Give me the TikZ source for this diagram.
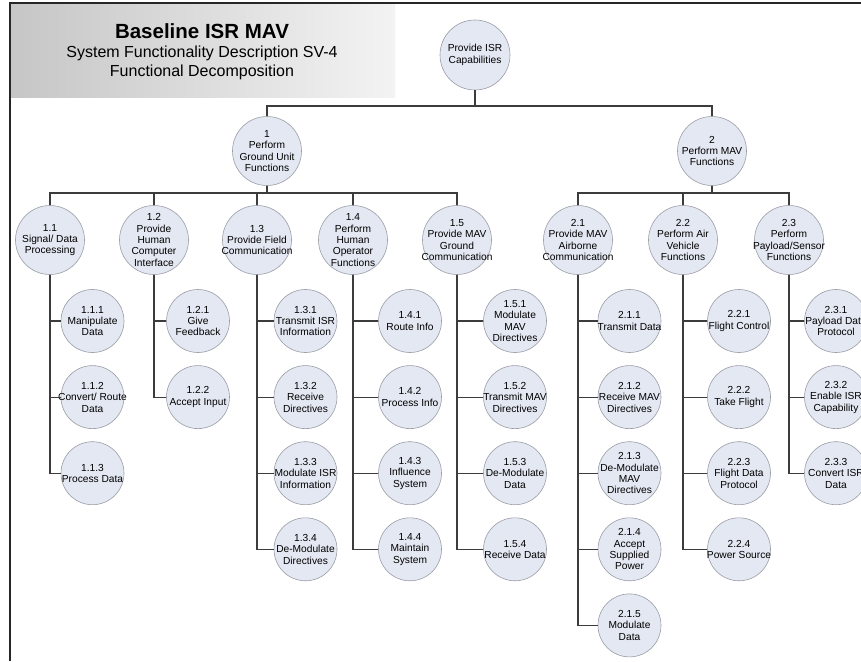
\documentclass[tikz,border=0pt]{standalone}
\usepackage{fontspec}
\setmainfont{Liberation Sans}
\usetikzlibrary{positioning}
\definecolor{fnfill}{HTML}{E4E8F2}
\definecolor{fnline}{HTML}{9A9CA6}
\definecolor{linkline}{HTML}{3C3C3C}
\definecolor{hdleft}{HTML}{C6C6C6}
\definecolor{hdright}{HTML}{F3F3F3}
\tikzset{
  fnbig/.style   = {circle, draw=fnline, fill=fnfill, line width=0.6pt,
                    minimum size=69pt, inner sep=0pt},
  fntext/.style  = {font=\fontsize{10.2}{11.4}\selectfont, align=center, inner sep=0pt},
  fn/.style      = {fnbig, label={[fntext]center:{#1}}},
  leaf/.style    = {fn={#1}, minimum size=63pt},
  treelink/.style = {draw=linkline, line width=1.1pt},
}

\begin{document}
\begin{tikzpicture}[x=1pt, y=-1pt, node distance=12.5pt]
    \useasboundingbox (0,0) rectangle (861,661);
    \clip (0,0) rectangle (861,661);
    % header
    \shade[left color=hdleft, right color=hdright] (10,3) rectangle (395,97);
    \draw[line width=2pt, draw=black!85] (10,661) -- (10,3) -- (861,3);
    \node[font=\fontsize{20.5}{24}\selectfont\bfseries, anchor=base] (hdtitle) at (202,38) {Baseline ISR MAV};
    \node[font=\fontsize{16}{20}\selectfont, anchor=base] (hdsub) at (202,57) {System Functionality Description SV-4};
    \node[font=\fontsize{16}{20}\selectfont, anchor=base] (hddec) at (202,77) {Functional Decomposition};

    % top levels
    \node[fn={Provide ISR\\Capabilities}, minimum size=70pt] (f0) at (475,55) {};
    \node[fn={1\\Perform\\Ground Unit\\Functions}] (f1) at (267,151) {};
    \node[fn={2\\Perform MAV\\Functions}]          (f2) at (712,151) {};

    \node[fn={1.1\\Signal/ Data\\Processing}]               (f11) at (50,240) {};
    \node[fn={1.2\\Provide\\Human\\Computer\\Interface}]    (f12) at (154,240) {};
    \node[fn={1.3\\Provide Field\\Communication}]           (f13) at (257,240) {};
    \node[fn={1.4\\Perform\\Human\\Operator\\Functions}]    (f14) at (353,240) {};
    \node[fn={1.5\\Provide MAV\\Ground\\Communication}]     (f15) at (457,240) {};
    \node[fn={2.1\\Provide MAV\\Airborne\\Communication}]   (f21) at (578,240) {};
    \node[fn={2.2\\Perform Air\\Vehicle\\Functions}]        (f22) at (683,240) {};
    \node[fn={2.3\\Perform\\Payload/Sensor\\Functions}]     (f23) at (789,240) {};

    % leaves
    \node[leaf={1.1.1\\Manipulate\\Data}]                   (f111) at (92.5,321) {};
    \node[leaf={1.1.2\\Convert/ Route\\Data}, below=of f111] (f112) {};
    \node[leaf={1.1.3\\Process Data}, below=of f112]        (f113) {};

    \node[leaf={1.2.1\\Give\\Feedback}]                     (f121) at (198,321) {};
    \node[leaf={1.2.2\\Accept Input}, below=of f121]        (f122) {};

    \node[leaf={1.3.1\\Transmit ISR\\Information}]          (f131) at (305.5,321) {};
    \node[leaf={1.3.2\\Receive\\Directives}, below=of f131] (f132) {};
    \node[leaf={1.3.3\\Modulate ISR\\Information}, below=of f132] (f133) {};
    \node[leaf={1.3.4\\De-Modulate\\Directives}, below=of f133]   (f134) {};

    \node[leaf={1.4.1\\Route Info}]                         (f141) at (410,321) {};
    \node[leaf={1.4.2\\Process Info}, below=of f141]        (f142) {};
    \node[leaf={1.4.3\\Influence\\System}, below=of f142]   (f143) {};
    \node[leaf={1.4.4\\Maintain\\System}, below=of f143]    (f144) {};

    \node[leaf={1.5.1\\Modulate\\MAV\\Directives}]          (f151) at (515,321) {};
    \node[leaf={1.5.2\\Transmit MAV\\Directives}, below=of f151] (f152) {};
    \node[leaf={1.5.3\\De-Modulate\\Data}, below=of f152]   (f153) {};
    \node[leaf={1.5.4\\Receive Data}, below=of f153]        (f154) {};

    \node[leaf={2.1.1\\Transmit Data}]                      (f211) at (629.5,321) {};
    \node[leaf={2.1.2\\Receive MAV\\Directives}, below=of f211]     (f212) {};
    \node[leaf={2.1.3\\De-Modulate\\MAV\\Directives}, below=of f212] (f213) {};
    \node[leaf={2.1.4\\Accept\\Supplied\\Power}, below=of f213]     (f214) {};
    \node[leaf={2.1.5\\Modulate\\Data}, below=of f214]              (f215) {};

    \node[leaf={2.2.1\\Flight Control}]                     (f221) at (739,321) {};
    \node[leaf={2.2.2\\Take Flight}, below=of f221]         (f222) {};
    \node[leaf={2.2.3\\Flight Data\\Protocol}, below=of f222] (f223) {};
    \node[leaf={2.2.4\\Power Source}, below=of f223]        (f224) {};

    \node[leaf={2.3.1\\Payload Data\\Protocol}]             (f231) at (836,321) {};
    \node[leaf={2.3.2\\Enable ISR\\Capability}, below=of f231] (f232) {};
    \node[leaf={2.3.3\\Convert ISR\\Data}, below=of f232]   (f233) {};

    % connectors
    \coordinate (b0) at (0,106);
    \coordinate (b1) at (0,193);
    \draw[treelink] (f0.south) -- (f0.south |- b0) -| (f1.north);
    \draw[treelink] (f0.south |- b0) -| (f2.north);
    \draw[treelink] (f1.south) -- (f1.south |- b1) -| (f11.north);
    \draw[treelink] (f1.south |- b1) -| (f12.north);
    \draw[treelink] (f1.south |- b1) -| (f13.north);
    \draw[treelink] (f1.south |- b1) -| (f14.north);
    \draw[treelink] (f1.south |- b1) -| (f15.north);
    \draw[treelink] (f2.south) -- (f2.south |- b1) -| (f21.north);
    \draw[treelink] (f2.south |- b1) -| (f22.north);
    \draw[treelink] (f2.south |- b1) -| (f23.north);

    \draw[treelink] (f11.south) |- (f111.west);
    \draw[treelink] (f11.south) |- (f112.west);
    \draw[treelink] (f11.south) |- (f113.west);
    \draw[treelink] (f12.south) |- (f121.west);
    \draw[treelink] (f12.south) |- (f122.west);
    \draw[treelink] (f13.south) |- (f131.west);
    \draw[treelink] (f13.south) |- (f132.west);
    \draw[treelink] (f13.south) |- (f133.west);
    \draw[treelink] (f13.south) |- (f134.west);
    \draw[treelink] (f14.south) |- (f141.west);
    \draw[treelink] (f14.south) |- (f142.west);
    \draw[treelink] (f14.south) |- (f143.west);
    \draw[treelink] (f14.south) |- (f144.west);
    \draw[treelink] (f15.south) |- (f151.west);
    \draw[treelink] (f15.south) |- (f152.west);
    \draw[treelink] (f15.south) |- (f153.west);
    \draw[treelink] (f15.south) |- (f154.west);
    \draw[treelink] (f21.south) |- (f211.west);
    \draw[treelink] (f21.south) |- (f212.west);
    \draw[treelink] (f21.south) |- (f213.west);
    \draw[treelink] (f21.south) |- (f214.west);
    \draw[treelink] (f21.south) |- (f215.west);
    \draw[treelink] (f22.south) |- (f221.west);
    \draw[treelink] (f22.south) |- (f222.west);
    \draw[treelink] (f22.south) |- (f223.west);
    \draw[treelink] (f22.south) |- (f224.west);
    \draw[treelink] (f23.south) |- (f231.west);
    \draw[treelink] (f23.south) |- (f232.west);
    \draw[treelink] (f23.south) |- (f233.west);
\end{tikzpicture}
\end{document}
